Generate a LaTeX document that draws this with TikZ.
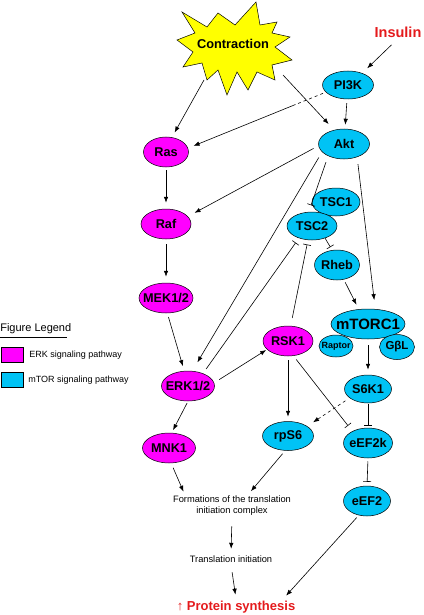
\documentclass[tikz,border=0pt]{standalone}
\usepackage{fontspec}
\setmainfont{Liberation Sans}
\usetikzlibrary{arrows.meta,calc,shapes.geometric}
\definecolor{erkcol}{RGB}{255,0,255}
\definecolor{mtorcol}{RGB}{0,195,245}
\definecolor{burstcol}{RGB}{255,255,0}
\definecolor{redtxt}{RGB}{228,26,28}
\newcommand{\zb}[1]{\makebox[0pt][c]{#1}}
\begin{document}
\begin{tikzpicture}[x=1pt,y=-1pt,line width=0.6pt,
  ell/.style={ellipse, draw=black, line width=0.5pt, inner sep=0pt, font=\bfseries\fontsize{12.7}{15}\selectfont},
  erk/.style={ell, fill=erkcol},
  mtor/.style={ell, fill=mtorcol},
  act/.style={-{Latex[length=6pt,width=4.5pt]}},
  inh/.style={-{Bar[width=8pt,line width=0.6pt]}},
  lbl/.style={font=\fontsize{9.3}{10.5}\selectfont, align=center, inner sep=2pt},
  legtxt/.style={anchor=west, font=\fontsize{9}{11}\selectfont, inner sep=0pt},
  legbox/.style={draw=black, line width=0.5pt, minimum width=22pt, minimum height=15pt, inner sep=0pt}]
\useasboundingbox (0,0) rectangle (423,615);

% starburst
\filldraw[fill=burstcol, draw=black, line width=0.5pt]
  (182,12) -- (207,27) -- (218,13) -- (235,25) -- (256,2) -- (260,25) -- (277,22) -- (272,33)
  -- (290,37) -- (275,47) -- (292,60) -- (272,65) -- (275,80) -- (257,72) -- (248,90) -- (237,72)
  -- (227,95) -- (218,70) -- (207,80) -- (202,63) -- (183,67) -- (193,52) -- (177,40) -- (195,33) -- cycle;
\node[font=\bfseries\fontsize{12.8}{15}\selectfont, inner sep=0pt] (contr) at (233,44) {Contraction};
\coordinate (c1) at (283,75);
\coordinate (c2) at (204,80);

\node[text=redtxt, font=\bfseries\fontsize{14.5}{17}\selectfont, inner sep=1pt] (ins) at (398,32) {Insulin};

% ERK pathway nodes
\node[erk, minimum width=45pt, minimum height=30pt] (ras) at (166,152) {\zb{Ras}};
\node[erk, minimum width=50pt, minimum height=30pt] (raf) at (166,224) {\zb{Raf}};
\node[erk, minimum width=54pt, minimum height=30pt] (mek) at (166,298) {\zb{MEK1/2}};
\node[erk, minimum width=53pt, minimum height=30pt] (erk) at (188,386) {\zb{ERK1/2}};
\node[erk, minimum width=53pt, minimum height=30pt] (mnk) at (169,448) {\zb{MNK1}};
\node[erk, minimum width=50pt, minimum height=30pt] (rsk) at (288,341) {\zb{RSK1}};

% mTOR pathway nodes
\node[mtor, minimum width=51pt, minimum height=28pt] (pi3k) at (348,85) {\zb{PI3K}};
\node[mtor, minimum width=51pt, minimum height=30pt] (akt) at (344,144) {\zb{Akt}};
\node[mtor, minimum width=48pt, minimum height=28pt] (tsc1) at (336,202) {\zb{TSC1}};
\node[mtor, minimum width=50pt, minimum height=28pt] (tsc2) at (312,226) {\zb{TSC2}};
\node[mtor, minimum width=45pt, minimum height=30pt] (rheb) at (337,265) {\zb{Rheb}};
\node[mtor, minimum width=74pt, minimum height=30pt, font=\bfseries\fontsize{15}{17}\selectfont] (mtorc) at (368,324) {\zb{mTORC1}};
\node[mtor, minimum width=34pt, minimum height=22pt, font=\bfseries\fontsize{9}{11}\selectfont] (raptor) at (336,346) {\zb{Raptor}};
\node[mtor, minimum width=35pt, minimum height=25pt, font=\bfseries\fontsize{11.5}{13}\selectfont] (gbl) at (397,347) {\zb{GβL}};
\node[mtor, minimum width=47pt, minimum height=28pt] (s6k) at (368,389) {\zb{S6K1}};
\node[mtor, minimum width=51pt, minimum height=29pt] (rps6) at (288,436) {\zb{rpS6}};
\node[mtor, minimum width=49pt, minimum height=30pt] (eef2k) at (368,443) {\zb{eEF2k}};
\node[mtor, minimum width=47pt, minimum height=30pt] (eef2) at (367,501) {\zb{eEF2}};

% text nodes
\node[lbl] (form) at (232,505.4) {Formations of the translation\\initiation complex};
\node[lbl] (ti) at (231,559) {Translation initiation};
\node[text=redtxt, font=\bfseries\fontsize{13}{15}\selectfont, inner sep=2pt] (ps) at (236,607) {↑ Protein synthesis};

% legend
\node[anchor=west, font=\fontsize{11}{13}\selectfont, inner sep=0pt] (legt) at (0,329) {Figure Legend};
\draw[line width=0.5pt] (0,337) -- (67,337);
\node[legbox, fill=erkcol] (lb1) at (12,354.5) {};
\node[legtxt] (lt1) at (29,355) {ERK signaling pathway};
\node[legbox, fill=mtorcol] (lb2) at (12,379.5) {};
\node[legtxt] (lt2) at (28,380) {mTOR signaling pathway};

% connectors
\draw[act, shorten <=9pt, shorten >=7pt] (ins.south) -- (pi3k.40);
\draw[act, shorten <=4pt, shorten >=4pt] (pi3k) -- (akt);
\draw[act, shorten >=8pt] (c1) -- (akt.125);
\draw[act, shorten >=5.5pt] (c2) -- (ras.68);
\coordinate (m1) at ($(pi3k.198)!0.22!(ras.10)$);
\draw[dashed, shorten <=3pt] (pi3k.198) -- (m1);
\draw[act, shorten >=6pt] (m1) -- (ras.10);
\draw[act, shorten <=5.5pt, shorten >=7.5pt] (akt.184) -- (raf.19);
\draw[act, shorten <=6.5pt, shorten >=10pt] (akt.200) -- (erk.74);
\draw[inh, shorten <=6.5pt, shorten >=7pt] (akt.217) -- (tsc2.103);
\draw[act, shorten <=7pt, shorten >=9pt] (akt.315) -- (mtorc.64);
\draw[inh, shorten >=3.5pt] (tsc2.317) -- (rheb.108);
\draw[act, shorten <=3pt, shorten >=5pt] (rheb.295) -- (mtorc.122);
\draw[inh, shorten <=5.5pt, shorten >=5.5pt] (erk.40) -- (tsc2.223);
\draw[inh, shorten <=8pt, shorten >=4.5pt] (rsk.80) -- (tsc2.254);
\draw[act, shorten <=3pt, shorten >=6pt] (ras.south) -- (raf.north);
\draw[act, shorten <=5pt, shorten >=6pt] (raf.south) -- (mek.north);
\draw[act, shorten <=4pt, shorten >=5pt] (mek.275) -- (erk.104);
\draw[act, shorten <=6pt, shorten >=1pt] (erk.7) -- (rsk.202);
\draw[act, shorten <=2pt, shorten >=3pt] (erk.270) -- (mnk.80);
\draw[act, shorten <=6pt, shorten >=5pt] (mtorc.south) -- (s6k.north);
\draw[act, shorten <=4pt, shorten >=4.5pt] (rsk.south) -- (rps6.north);
\draw[inh, shorten <=4.5pt, shorten >=7pt] (rsk.290) -- (eef2k.143);
\draw[act, dashed, shorten <=5pt, shorten >=7pt] (s6k.206) -- (rps6.27);
\draw[inh, shorten <=1pt, shorten >=2pt] (s6k.south) -- (eef2k.north);
\draw[inh, shorten <=3pt, shorten >=4pt] (eef2k.south) -- (eef2.north);
\draw[act, shorten <=5pt, shorten >=2pt] (mnk.278) -- (form.166);
\draw[act, shorten <=4pt, shorten >=3pt] (rps6.259) -- (form.35);
\draw[act, shorten <=9pt, shorten >=4.5pt] (form.south) -- (ti.north);
\draw[act, shorten <=7.5pt, shorten >=4pt] (ti.south) -- (ps.north);
\draw[act, shorten <=3pt, shorten >=4pt] (eef2.240) -- (ps.10);
\end{tikzpicture}
\end{document}
